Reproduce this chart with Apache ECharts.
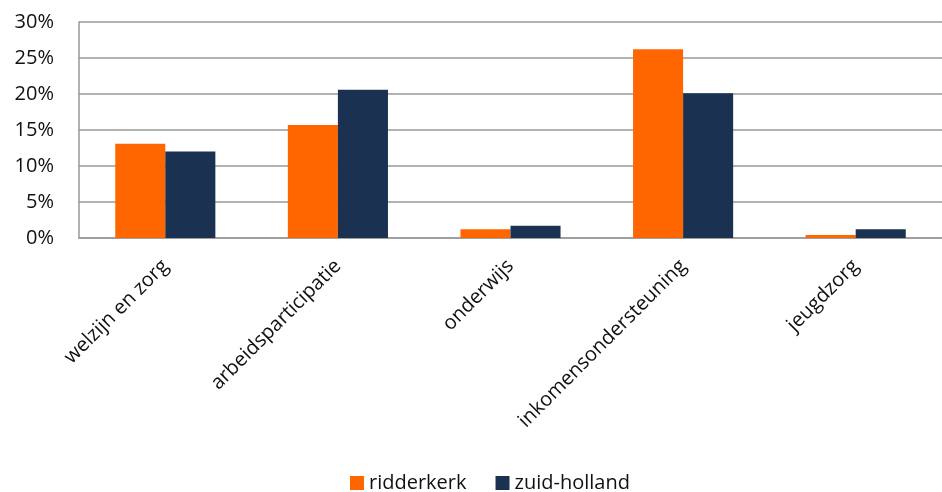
<!DOCTYPE html>
<html><head><meta charset="utf-8">
<script src="https://cdn.jsdelivr.net/npm/echarts@6/dist/echarts.min.js"></script>
<style>html,body{margin:0;padding:0;background:#fff}#c{width:942px;height:492px}</style>
</head><body><div id="c"></div>
<script>
const categories = ['welzijn en zorg','arbeidsparticipatie','onderwijs','inkomensondersteuning','jeugdzorg'];
const ridderkerk = [13.1, 15.7, 1.2, 26.2, 0.4];
const zuidHolland = [12.0, 20.6, 1.7, 20.1, 1.2];
const seriesNames = ['ridderkerk','zuid-holland'];
const FONT = '"Open Sans", Lato, sans-serif';
const chart = echarts.init(document.getElementById('c'));
chart.setOption({
  animation:false,
  grid:{left:79, right:0, top:22, bottom:254, containLabel:false},
  legend:{top:473, left:350, padding:0, itemWidth:14, itemHeight:14, itemGap:29,
    icon:'rect',
    textStyle:{fontFamily:FONT, fontSize:20, color:'#111', lineHeight:20},
    data:seriesNames},
  xAxis:{type:'category', data:categories,
    axisLine:{lineStyle:{color:'#999', width:1.5}},
    axisTick:{show:false},
    axisLabel:{rotate:45, interval:0, fontFamily:FONT, fontSize:20, color:'#111', margin:25}},
  yAxis:{type:'value', min:0, max:30, interval:5,
    axisLine:{show:true, lineStyle:{color:'#999', width:1.5}},
    axisTick:{show:false},
    splitLine:{lineStyle:{color:'#999', width:1.5}},
    axisLabel:{formatter:'{value}%', fontFamily:FONT, fontSize:20, color:'#111', margin:25}},
  series:[
    {name:seriesNames[0], type:'bar', data:ridderkerk, barGap:'0%', barCategoryGap:'42%', itemStyle:{color:'#FF6600'}},
    {name:seriesNames[1], type:'bar', data:zuidHolland, barGap:'0%', barCategoryGap:'42%', itemStyle:{color:'#1A3152'}}
  ]
});
</script></body></html>
